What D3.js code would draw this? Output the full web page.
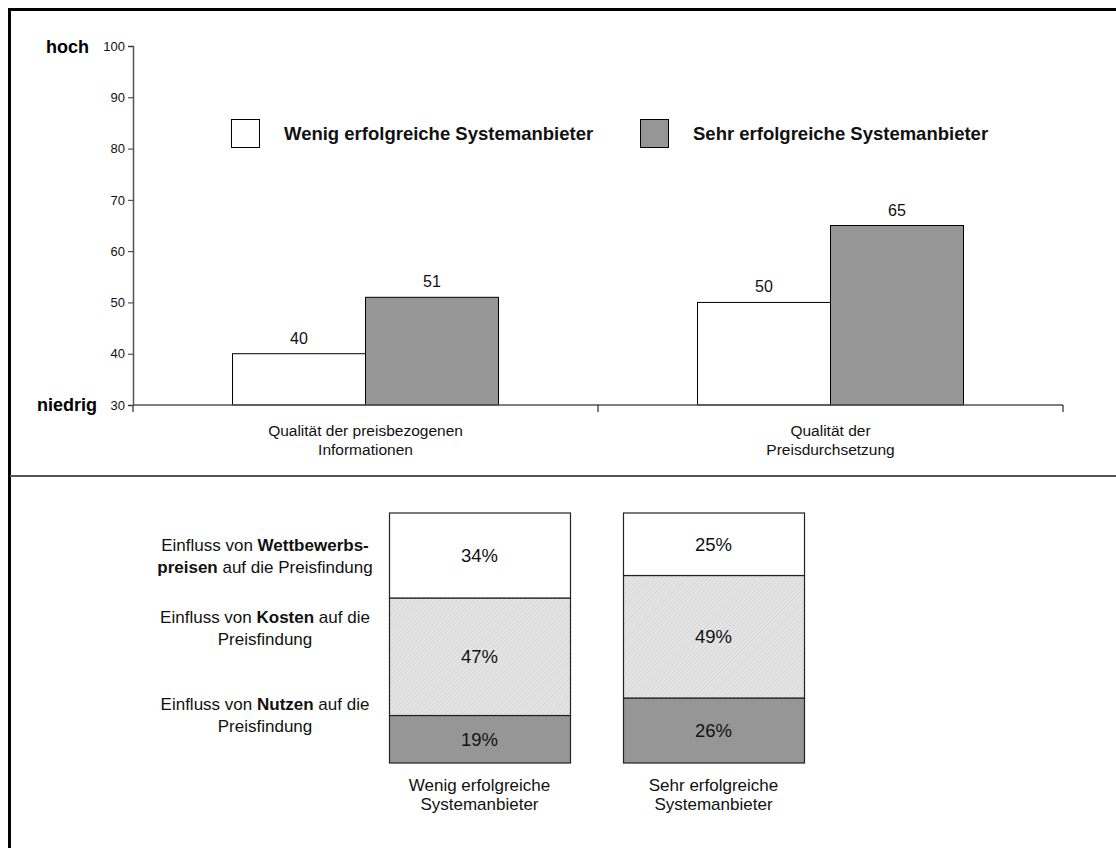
<!DOCTYPE html>
<html>
<head>
<meta charset="utf-8">
<script src="https://cdn.jsdelivr.net/npm/d3@7"></script>
<style>
  html, body { margin: 0; padding: 0; background: #fff; }
  svg { display: block; font-family: Arial, "Liberation Sans", Helvetica, sans-serif; }
</style>
</head>
<body>
<svg id="chart" width="1116" height="848"></svg>
<script>
// Upper chart: quality ratings per group
const qualityCategories = [["Qualität der preisbezogenen", "Informationen"], ["Qualität der", "Preisdurchsetzung"]];
const seriesNames = ["Wenig erfolgreiche Systemanbieter", "Sehr erfolgreiche Systemanbieter"];
const seriesWenig = [40, 50];
const seriesSehr = [51, 65];
const yTicks = [30, 40, 50, 60, 70, 80, 90, 100];

// Lower chart: influence shares on pricing (bottom to top)
const stackGroups = [["Wenig erfolgreiche", "Systemanbieter"], ["Sehr erfolgreiche", "Systemanbieter"]];
const stackKeys = ["Nutzen", "Kosten", "Wettbewerbspreise"];
const shareNutzen = [19, 26];
const shareKosten = [47, 49];
const shareWettbewerb = [34, 25];

const FONT = "Arial, 'Liberation Sans', Helvetica, sans-serif";
const svg = d3.select("#chart");
const defs = svg.append("defs");
const pat = defs.append("pattern")
  .attr("id", "dotted")
  .attr("patternUnits", "userSpaceOnUse")
  .attr("width", 3).attr("height", 3)
  .attr("patternTransform", "rotate(45)");
pat.append("rect").attr("width", 3).attr("height", 3).attr("fill", "#e6e6e6");
pat.append("rect").attr("width", 1).attr("height", 3).attr("fill", "#d6d6d6");

const GREY = "#969696";

// Frame and divider
svg.append("line").attr("x1", 8.5).attr("x2", 1116).attr("y1", 9.5).attr("y2", 9.5)
  .attr("stroke", "#000").attr("stroke-width", 3);
svg.append("line").attr("x1", 9.5).attr("x2", 9.5).attr("y1", 8).attr("y2", 848)
  .attr("stroke", "#000").attr("stroke-width", 3);
svg.append("line").attr("x1", 10).attr("x2", 1116).attr("y1", 476).attr("y2", 476)
  .attr("stroke", "#555").attr("stroke-width", 2);

// ---------- Upper grouped bar chart ----------
const y = d3.scaleLinear().domain([30, 100]).range([405, 46]);
const x0 = d3.scaleBand().domain(d3.range(qualityCategories.length)).range([133, 1063]).padding(0);
const barsPerGroup = 266;
const gTop = svg.append("g");

const yAxis = d3.axisLeft(y).tickValues(yTicks).tickSize(5).tickPadding(3);
const yg = gTop.append("g").attr("transform", "translate(133,0)").call(yAxis)
  .attr("font-family", FONT).attr("font-size", 13);
yg.select(".domain").attr("stroke", "#555").attr("stroke-width", 1.5);
yg.selectAll(".tick line").attr("stroke", "#333");
yg.selectAll(".tick text").attr("fill", "#111");

const rows = qualityCategories.map((c, i) => ({ i, values: [seriesWenig[i], seriesSehr[i]] }));
rows.forEach(r => {
  const cx = x0(r.i) + x0.bandwidth() / 2;
  const x1 = d3.scaleBand().domain(d3.range(seriesNames.length))
    .range([cx - barsPerGroup / 2, cx + barsPerGroup / 2]).padding(0);
  r.values.forEach((v, k) => {
    gTop.append("rect")
      .attr("x", x1(k)).attr("y", y(v))
      .attr("width", x1.bandwidth()).attr("height", y(30) - y(v))
      .attr("fill", k === 0 ? "#fff" : GREY)
      .attr("stroke", "#000").attr("stroke-width", 1);
    gTop.append("text")
      .attr("x", x1(k) + x1.bandwidth() / 2).attr("y", y(v) - 10)
      .attr("text-anchor", "middle").attr("font-size", 16).attr("fill", "#111")
      .text(v);
  });
});

// x axis baseline with group separators
const xg = gTop.append("g");
xg.append("line").attr("x1", 133).attr("x2", 1063).attr("y1", y(30)).attr("y2", y(30))
  .attr("stroke", "#555").attr("stroke-width", 1.5);
[...d3.range(qualityCategories.length).map(i => x0(i)).slice(1), 1063].forEach(tx => {
  xg.append("line").attr("x1", tx).attr("x2", tx).attr("y1", y(30)).attr("y2", y(30) + 7)
    .attr("stroke", "#000").attr("stroke-width", 1);
});
xg.append("line").attr("x1", 133).attr("x2", 133).attr("y1", y(30)).attr("y2", y(30) + 7)
  .attr("stroke", "#555").attr("stroke-width", 1.5);
qualityCategories.forEach((lines, i) => {
  const t = xg.append("text").attr("text-anchor", "middle").attr("font-size", 15.5).attr("fill", "#111");
  lines.forEach((ln, j) => {
    t.append("tspan").attr("x", x0(i) + x0.bandwidth() / 2).attr("y", 435.5 + j * 19).text(ln);
  });
});

gTop.append("text").attr("x", 89).attr("y", 52.5).attr("text-anchor", "end")
  .attr("font-size", 18).attr("font-weight", "bold").text("hoch");
gTop.append("text").attr("x", 97).attr("y", 411).attr("text-anchor", "end")
  .attr("font-size", 18).attr("font-weight", "bold").text("niedrig");

// Legend
const legendX = [231, 640];
seriesNames.forEach((name, k) => {
  gTop.append("rect").attr("x", legendX[k] + 0.5).attr("y", 119.5).attr("width", 28).attr("height", 28)
    .attr("fill", k === 0 ? "#fff" : GREY).attr("stroke", "#000").attr("stroke-width", 1);
  gTop.append("text").attr("x", legendX[k] + 53).attr("y", 140)
    .attr("font-size", 18.5).attr("font-weight", "bold").attr("fill", "#111").text(name);
});

// ---------- Lower stacked bar chart ----------
const shareTable = stackGroups.map((g, i) => ({
  i, Nutzen: shareNutzen[i], Kosten: shareKosten[i], Wettbewerbspreise: shareWettbewerb[i]
}));
const stacked = d3.stack().keys(stackKeys)(shareTable);
const ys = d3.scaleLinear().domain([0, 100]).range([763, 513]);
const xs = d3.scaleBand().domain(d3.range(stackGroups.length)).range([389, 804]).paddingInner(0.2265);
const fills = { Nutzen: GREY, Kosten: "url(#dotted)", Wettbewerbspreise: "#fff" };
const gBottom = svg.append("g");

stacked.forEach(layer => {
  layer.forEach((d, i) => {
    gBottom.append("rect")
      .attr("x", xs(i) + 0.5).attr("y", ys(d[1]))
      .attr("width", xs.bandwidth()).attr("height", ys(d[0]) - ys(d[1]))
      .attr("fill", fills[layer.key]).attr("stroke", "#222").attr("stroke-width", 1.2);
    gBottom.append("text")
      .attr("x", xs(i) + xs.bandwidth() / 2).attr("y", (ys(d[0]) + ys(d[1])) / 2 + 6.5)
      .attr("text-anchor", "middle").attr("font-size", 18.5).attr("fill", "#111")
      .text((d[1] - d[0]) + "%");
  });
});

stackGroups.forEach((lines, i) => {
  const t = gBottom.append("text").attr("text-anchor", "middle").attr("font-size", 17).attr("fill", "#111");
  lines.forEach((ln, j) => {
    t.append("tspan").attr("x", xs(i) + xs.bandwidth() / 2).attr("y", 791 + j * 18.5).text(ln);
  });
});

// Row descriptions
const rowLabels = [
  { y: 551, lines: [[["Einfluss von ", false], ["Wettbewerbs-", true]], [["preisen", true], [" auf die Preisfindung", false]]] },
  { y: 623, lines: [[["Einfluss von ", false], ["Kosten", true], [" auf die", false]], [["Preisfindung", false]]] },
  { y: 710, lines: [[["Einfluss von ", false], ["Nutzen", true], [" auf die", false]], [["Preisfindung", false]]] }
];
rowLabels.forEach(r => {
  r.lines.forEach((parts, j) => {
    const t = gBottom.append("text").attr("x", 265).attr("y", r.y + j * 21.5)
      .attr("text-anchor", "middle").attr("font-size", 17).attr("fill", "#111");
    parts.forEach(([s, b]) => t.append("tspan").attr("font-weight", b ? "bold" : "normal").text(s));
  });
});
</script>
</body>
</html>
